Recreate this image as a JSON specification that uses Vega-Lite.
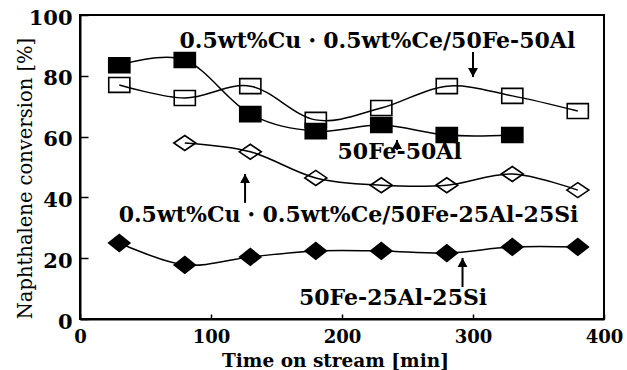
{
  "$schema": "https://vega.github.io/schema/vega-lite/v6.json",
  "autosize": "none",
  "width": 524,
  "height": 304,
  "padding": {"left": 80, "top": 15, "right": 23, "bottom": 51},
  "background": "white",
  "datasets": {
    "pts": [
      {"series": "FS", "time": 30, "conv": 83.5},
      {"series": "FS", "time": 80, "conv": 85.2},
      {"series": "FS", "time": 130, "conv": 67.4},
      {"series": "FS", "time": 180, "conv": 61.8},
      {"series": "FS", "time": 230, "conv": 63.8},
      {"series": "FS", "time": 280, "conv": 60.5},
      {"series": "FS", "time": 330, "conv": 60.5},
      {"series": "OS", "time": 30, "conv": 77},
      {"series": "OS", "time": 80, "conv": 72.7},
      {"series": "OS", "time": 130, "conv": 76.6},
      {"series": "OS", "time": 180, "conv": 65.5},
      {"series": "OS", "time": 230, "conv": 69.4},
      {"series": "OS", "time": 280, "conv": 76.6},
      {"series": "OS", "time": 330, "conv": 73.4},
      {"series": "OS", "time": 380, "conv": 68.4},
      {"series": "OD", "time": 80, "conv": 57.9},
      {"series": "OD", "time": 130, "conv": 55},
      {"series": "OD", "time": 180, "conv": 46.4},
      {"series": "OD", "time": 230, "conv": 44},
      {"series": "OD", "time": 280, "conv": 44},
      {"series": "OD", "time": 330, "conv": 47.7},
      {"series": "OD", "time": 380, "conv": 42.4},
      {"series": "FD", "time": 30, "conv": 25},
      {"series": "FD", "time": 80, "conv": 17.8},
      {"series": "FD", "time": 130, "conv": 20.4},
      {"series": "FD", "time": 180, "conv": 22.4},
      {"series": "FD", "time": 230, "conv": 22.4},
      {"series": "FD", "time": 280, "conv": 21.7},
      {"series": "FD", "time": 330, "conv": 23.7},
      {"series": "FD", "time": 380, "conv": 23.7}
    ],
    "labels": [
      {"label": "0.5wt%Cu・0.5wt%Ce/50Fe-50Al", "time": 227, "conv": 91.5},
      {"label": "50Fe-50Al", "time": 244, "conv": 55},
      {"label": "0.5wt%Cu・0.5wt%Ce/50Fe-25Al-25Si", "time": 205, "conv": 34.2},
      {"label": "50Fe-25Al-25Si", "time": 239, "conv": 6.9}
    ],
    "arrows": [
      {"time": 300, "tail": 87.8, "tip": 79.6, "dir": "down"},
      {"time": 242, "tail": 55.6, "tip": 58.9, "dir": "up"},
      {"time": 126, "tail": 38.2, "tip": 47.7, "dir": "up"},
      {"time": 292, "tail": 10.5, "tip": 20.1, "dir": "up"}
    ]
  },
  "layer": [
    {
      "data": {"name": "pts"},
      "mark": {"type": "line", "interpolate": "cardinal", "color": "black", "strokeWidth": 1.5},
      "encoding": {
        "x": {"field": "time", "type": "quantitative", "scale": {"domain": [0, 400], "nice": false},
          "axis": {"values": [0, 100, 200, 300, 400], "title": "Time on stream [min]", "tickSize": -5, "labelPadding": 14, "labelFlush": false, "labelFontSize": 18,
            "titleFontWeight": "bold", "titleFontSize": 18.5, "titleX": 255, "titleY": 47, "titleBaseline": "alphabetic", "titleAnchor": "middle", "titleAlign": "center"}},
        "y": {"field": "conv", "type": "quantitative", "scale": {"domain": [0, 100], "nice": false},
          "axis": {"values": [0, 20, 40, 60, 80, 100], "title": "Naphthalene conversion [%]", "tickSize": -8, "labelPadding": 16, "labelOffset": 3,
            "titleFontWeight": "normal", "titleFontSize": 19.5, "titleX": -49, "titleY": 163, "titleBaseline": "alphabetic", "titleAngle": -90, "titleAlign": "center"}},
        "detail": {"field": "series"}
      }
    },
    {
      "data": {"name": "pts"},
      "mark": {"type": "point", "filled": true, "stroke": "black", "strokeWidth": 1.6, "opacity": 1},
      "encoding": {
        "x": {"field": "time", "type": "quantitative"},
        "y": {"field": "conv", "type": "quantitative"},
        "shape": {"field": "series", "type": "nominal", "legend": null,
          "scale": {"domain": ["FS", "OS", "OD", "FD"], "range": [
            "M-1.2,-0.85L1.2,-0.85L1.2,0.85L-1.2,0.85Z",
            "M-1.2,-0.85L1.2,-0.85L1.2,0.85L-1.2,0.85Z",
            "M-1.25,0L0,-0.85L1.25,0L0,0.85Z",
            "M-1.2,0L0,-0.95L1.2,0L0,0.95Z"]}},
        "fill": {"field": "series", "type": "nominal", "legend": null,
          "scale": {"domain": ["FS", "OS", "OD", "FD"], "range": ["black", "transparent", "transparent", "black"]}},
        "size": {"value": 310}
      }
    },
    {
      "data": {"name": "arrows"},
      "mark": {"type": "rule", "color": "black", "strokeWidth": 2},
      "encoding": {
        "x": {"field": "time", "type": "quantitative"},
        "y": {"field": "tail", "type": "quantitative"},
        "y2": {"field": "tip"}
      }
    },
    {
      "data": {"name": "arrows"},
      "transform": [{"filter": "datum.dir === 'down'"}],
      "mark": {"type": "point", "filled": true, "color": "black", "opacity": 1, "shape": "M0,0L-0.55,-1L0.55,-1Z", "size": 324},
      "encoding": {
        "x": {"field": "time", "type": "quantitative"},
        "y": {"field": "tip", "type": "quantitative"}
      }
    },
    {
      "data": {"name": "arrows"},
      "transform": [{"filter": "datum.dir === 'up'"}],
      "mark": {"type": "point", "filled": true, "color": "black", "opacity": 1, "shape": "M0,0L-0.55,1L0.55,1Z", "size": 324},
      "encoding": {
        "x": {"field": "time", "type": "quantitative"},
        "y": {"field": "tip", "type": "quantitative"}
      }
    },
    {
      "data": {"name": "labels"},
      "mark": {"type": "text", "font": "DejaVu Serif", "fontWeight": "bold", "fontSize": 22, "baseline": "middle", "align": "center", "color": "black"},
      "encoding": {
        "x": {"field": "time", "type": "quantitative"},
        "y": {"field": "conv", "type": "quantitative"},
        "text": {"field": "label"}
      }
    }
  ],
  "config": {
    "view": {"stroke": "black", "strokeWidth": 2},
    "axis": {
      "grid": false,
      "domainColor": "black", "domainWidth": 2,
      "tickColor": "black", "tickWidth": 1.5,
      "labelFont": "DejaVu Serif", "labelFontWeight": "bold", "labelFontSize": 21, "labelColor": "black",
      "titleFont": "DejaVu Serif", "titleFontSize": 18, "titleColor": "black"
    }
  }
}
